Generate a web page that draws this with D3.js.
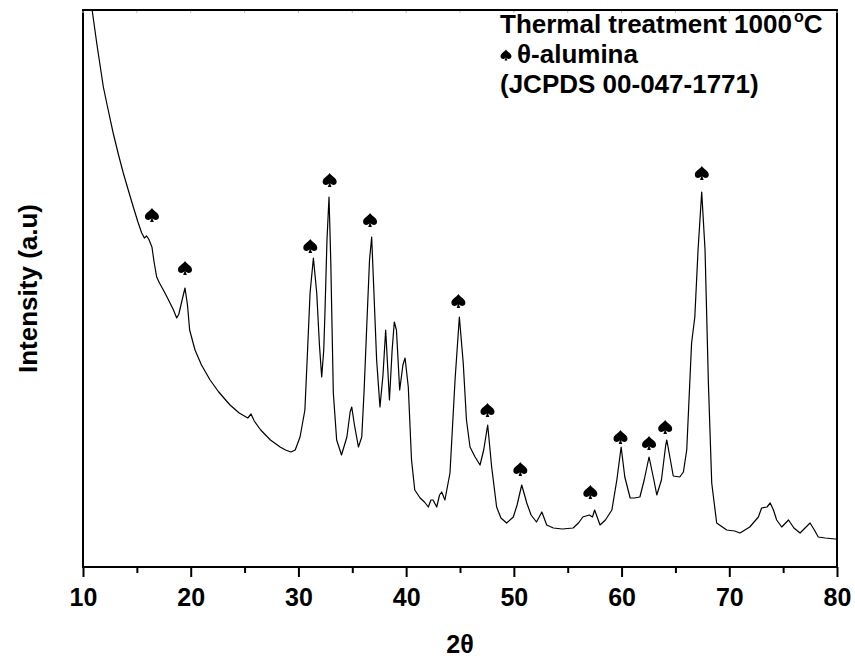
<!DOCTYPE html>
<html>
<head>
<meta charset="utf-8">
<script src="https://cdn.jsdelivr.net/npm/d3@7"></script>
<style>
  html, body { margin: 0; padding: 0; background: #fff; overflow: hidden; }
  svg { display: block; }
  svg text { font-family: "Liberation Sans", Arial, sans-serif; font-weight: bold; }
</style>
</head>
<body>
<svg id="chart" width="855" height="661"></svg>
<script>
// XRD pattern (2theta, intensity in a.u.)
const twoTheta = [10.5, 10.86, 11.3, 11.89, 12.3, 12.8, 13.3, 13.74, 14.2, 14.67, 15.1, 15.45, 15.7, 15.9, 16.1, 16.4, 16.6, 16.84, 17.1, 17.46,
  17.8, 18.08, 18.4, 18.7, 18.9, 19.2, 19.47, 19.7, 19.9, 20.4, 21.0, 21.8, 22.6, 23.65, 24.5, 25.3, 25.6, 25.9, 26.5, 27.4,
  28.3, 28.8, 29.3, 29.7, 30.15, 30.6, 30.85, 31.08, 31.39, 31.7, 31.95, 32.16, 32.35, 32.47, 32.65, 32.84, 33.0, 33.24, 33.55, 34.0,
  34.5, 34.8, 34.95, 35.2, 35.57, 35.88, 36.1, 36.34, 36.6, 36.8, 37.0, 37.26, 37.57, 37.85, 38.1, 38.3, 38.45, 38.7, 38.9, 39.1,
  39.4, 39.7, 39.9, 40.2, 40.5, 40.8, 41.3, 41.7, 42.06, 42.3, 42.5, 42.84, 43.1, 43.3, 43.6, 44.07, 44.54, 44.94, 45.3, 45.6,
  45.93, 46.4, 46.86, 47.2, 47.57, 47.94, 48.4, 48.8, 49.33, 49.95, 50.3, 50.73, 51.2, 51.6, 52.1, 52.6, 53.05, 53.67, 54.5, 55.5,
  56.0, 56.4, 57.0, 57.3, 57.5, 58.0, 58.5, 59.1, 59.56, 59.96, 60.3, 60.8, 61.2, 61.7, 62.1, 62.55, 63.0, 63.27, 63.7, 64.1,
  64.2, 64.8, 65.4, 65.74, 66.05, 66.5, 66.8, 67.1, 67.44, 67.75, 68.06, 68.37, 68.83, 69.76, 70.5, 71.0, 71.9, 72.7, 73.0, 73.5,
  73.8, 74.1, 74.4, 74.87, 75.5, 76.0, 76.57, 77.5, 77.9, 78.26, 78.9, 79.8, 80.0];
const intensity = [577, 556, 522, 480, 459, 434, 412, 394, 377, 360, 345, 334, 329, 331, 328, 320, 305, 290, 284, 277,
  270, 264, 257, 249, 253, 267, 279, 262, 237, 217, 202, 187, 175, 162, 154, 149, 153, 146, 137, 127,
  120, 117, 115, 117, 130, 157, 217, 274, 309, 274, 222, 190, 217, 257, 327, 370, 307, 174, 127, 112,
  130, 155, 160, 142, 120, 130, 177, 240, 307, 330, 277, 207, 160, 192, 237, 197, 167, 217, 245, 237,
  177, 202, 209, 180, 107, 77, 69, 65, 60, 67, 67, 60, 72, 75, 67, 94, 187, 250, 204, 147,
  120, 110, 102, 117, 142, 100, 60, 49, 44, 50, 62, 82, 64, 52, 45, 55, 42, 39, 38, 39,
  44, 50, 52, 50, 57, 42, 47, 57, 87, 120, 90, 69, 69, 70, 87, 110, 87, 72, 87, 122,
  127, 91, 90, 95, 117, 224, 250, 317, 375, 317, 184, 84, 44, 37, 36, 34, 40, 50, 59, 60,
  64, 57, 47, 40, 47, 39, 34, 44, 37, 30, 29, 28, 28];

// theta-alumina reflections marked with a spade, and the label height
const peakPos = [16.4, 19.47, 31.1, 32.9, 36.65, 44.85, 47.55, 50.6, 57.1, 59.9, 62.55, 64.05, 67.45];
const peakMark = [352, 299, 321, 387, 347, 266, 157, 98, 75, 130, 124, 140, 394];

const xTicks = [10, 20, 30, 40, 50, 60, 70, 80];
const xMinor = [15, 25, 35, 45, 55, 65, 75];

const legendLines = ["Thermal treatment 1000", "\u03b8-alumina", "(JCPDS 00-047-1771)"];

const margin = {left: 83, right: 18, top: 10, bottom: 94};
const width = 855, height = 661;

// spade outline in a unit box centred on 0,0
const spadePath = "M0,-0.5 C0.1,-0.3 0.5,-0.15 0.5,0.12 C0.5,0.32 0.3,0.4 0.15,0.33 " +
    "C0.08,0.3 0.04,0.25 0.03,0.22 L0.13,0.5 L-0.13,0.5 L-0.03,0.22 " +
    "C-0.04,0.25 -0.08,0.3 -0.15,0.33 C-0.3,0.4 -0.5,0.32 -0.5,0.12 C-0.5,-0.15 -0.1,-0.3 0,-0.5 Z";

const svg = d3.select("#chart");

const x = d3.scaleLinear().domain([10, 80]).range([margin.left, width - margin.right]);
const y = d3.scaleLinear().domain([0, 557]).range([height - margin.bottom, margin.top]);

const x0 = x(10), x1 = x(80), yTop = y(557), yBot = y(0);

svg.append("defs").append("clipPath").attr("id", "plotClip")
    .append("rect")
    .attr("x", x0).attr("y", yTop)
    .attr("width", x1 - x0).attr("height", yBot - yTop);

// pattern
const pts = twoTheta.map((t, i) => [t, intensity[i]]);
const line = d3.line().x(d => x(d[0])).y(d => y(d[1]));
svg.append("path")
    .datum(pts)
    .attr("clip-path", "url(#plotClip)")
    .attr("fill", "none")
    .attr("stroke", "#000")
    .attr("stroke-width", 1.2)
    .attr("stroke-linejoin", "round")
    .attr("d", line);

// spade markers
svg.append("g")
    .selectAll("path")
    .data(peakPos)
    .enter()
    .append("path")
    .attr("d", spadePath)
    .attr("fill", "#000")
    .attr("transform", (d, i) => "translate(" + x(d) + "," + y(peakMark[i]) + ") scale(14)");

// plot frame as four filled bars (top, bottom, left, right)
const edges = [
    {x: x0 - 1, y: yTop - 1, w: x1 - x0 + 2, h: 2},
    {x: x0 - 1, y: yBot - 1, w: x1 - x0 + 2, h: 2},
    {x: x0 - 1, y: yTop - 1, w: 2, h: yBot - yTop + 2},
    {x: x1 - 1, y: yTop - 1, w: 2, h: yBot - yTop + 2}
];
svg.append("g")
    .selectAll("rect")
    .data(edges)
    .enter()
    .append("rect")
    .attr("x", d => d.x).attr("y", d => d.y)
    .attr("width", d => d.w).attr("height", d => d.h)
    .attr("fill", "#000");

// bottom axis
const xAxis = d3.axisBottom(x).tickValues(xTicks).tickSize(10).tickFormat(d3.format("d"));
const gx = svg.append("g")
    .attr("transform", "translate(0," + yBot + ")")
    .call(xAxis);
gx.select(".domain").remove();
gx.selectAll(".tick line").attr("stroke-width", 2);
gx.selectAll(".tick text")
    .attr("y", 21)
    .attr("dy", "0.71em")
    .attr("font-size", "25px")
    .attr("fill", "#000");

const xAxisMinor = d3.axisBottom(x).tickValues(xMinor).tickSize(6).tickFormat("");
const gxm = svg.append("g")
    .attr("transform", "translate(0," + yBot + ")")
    .call(xAxisMinor);
gxm.select(".domain").remove();
gxm.selectAll(".tick line").attr("stroke-width", 2);

// faint inward ticks on the top edge
svg.append("g")
    .selectAll("line")
    .data(xTicks.concat(xMinor))
    .enter()
    .append("line")
    .attr("x1", d => x(d)).attr("x2", d => x(d))
    .attr("y1", yTop + 1).attr("y2", yTop + 3)
    .attr("stroke", "#bbb")
    .attr("stroke-width", 1);

// axis titles
svg.append("text")
    .attr("x", (x0 + x1) / 2)
    .attr("y", 653)
    .attr("text-anchor", "middle")
    .attr("font-size", "25px")
    .text("2\u03b8");

svg.append("text")
    .attr("transform", "translate(37," + ((yBot + yTop) / 2) + ") rotate(-90)")
    .attr("text-anchor", "middle")
    .attr("font-size", "26px")
    .text("Intensity (a.u)");

// legend block
const legend = svg.append("g").attr("transform", "translate(500,0)");
const l1 = legend.append("text").attr("x", 0).attr("y", 33).attr("font-size", "26px");
l1.append("tspan").text(legendLines[0]);
l1.append("tspan").attr("font-size", "16px").attr("dy", -11).attr("dx", 2).text("o");
l1.append("tspan").attr("dy", 11).text("C");

legend.append("path")
    .attr("d", spadePath)
    .attr("fill", "#000")
    .attr("transform", "translate(6,55) scale(11)");
legend.append("text").attr("x", 17).attr("y", 63).attr("font-size", "26px").text(legendLines[1]);
legend.append("text").attr("x", 0).attr("y", 93).attr("font-size", "26px").text(legendLines[2]);
</script>
</body>
</html>
